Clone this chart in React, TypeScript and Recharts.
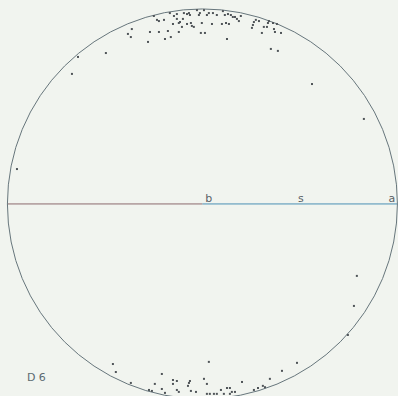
import React from 'react';
import { ScatterChart, Scatter, XAxis, YAxis, ReferenceLine } from 'recharts';

const W = 398;
const H = 396;
const X_DOMAIN: [number, number] = [-103.8, 100.3];
const Y_DOMAIN: [number, number] = [-98.5, 104.6];
const NET_RADIUS = 100;

// Poles in net coordinates (radius = 100), [east, north]
const northCluster: [number, number][] = [
  [-36.2, 89.7], [-36.7, 85.6], [-27.9, 83.1], [-26.9, 88.2], [-24.9, 96.4], [-23.3, 94.4],
  [-22.3, 93.8], [-22.3, 88.2], [-19.7, 94.4], [-19.2, 84.6], [-17.7, 88.7], [-16.7, 97.9],
  [-16.2, 85.6], [-15.1, 92.3], [-14.6, 96.4], [-13.1, 97.4], [-12.1, 88.2], [-13.1, 94.9],
  [-12.1, 92.8], [-11.5, 93.3], [-10.0, 94.9], [-9.5, 97.9], [-10.5, 90.8], [-7.9, 92.3],
  [-7.9, 97.4], [-6.9, 97.9], [-6.4, 96.9], [-5.9, 92.8], [-5.4, 91.3], [-4.4, 90.8],
  [-2.8, 99.4], [-1.8, 96.9], [-1.3, 97.9], [-0.8, 87.7], [-0.3, 92.8], [1.3, 87.7],
  [0.8, 99.4], [2.3, 96.9], [3.3, 97.9], [4.9, 92.3], [5.4, 97.9], [7.4, 96.9],
  [10.0, 92.3], [10.5, 98.9], [11.5, 96.9], [12.1, 92.8], [12.6, 84.6], [13.6, 92.3],
  [13.1, 97.4], [14.6, 96.9], [15.6, 95.9], [16.7, 95.9], [17.7, 94.9], [18.7, 93.8],
  [19.7, 96.4], [25.4, 90.3], [25.9, 91.8], [26.4, 93.3], [27.4, 94.4], [29.0, 93.8],
  [30.5, 87.7], [31.5, 90.8], [33.1, 90.8], [33.6, 92.8], [34.1, 93.8], [36.2, 92.8],
  [36.7, 89.7], [37.2, 88.2], [38.2, 92.3], [40.3, 87.7], [35.1, 79.5], [38.7, 78.5],
];

const southCluster: [number, number][] = [
  [-45.9, -82.1], [-44.4, -86.2], [-36.7, -91.8], [-27.4, -95.4], [-25.9, -95.9], [-24.4, -92.3],
  [-20.8, -87.2], [-20.8, -94.9], [-19.2, -96.9], [-15.1, -90.3], [-13.1, -90.8], [-15.1, -92.3],
  [-13.1, -95.4], [-12.1, -96.4], [-7.4, -93.3], [-6.4, -90.8], [-6.9, -91.8], [-5.9, -95.9],
  [-3.3, -96.4], [3.3, -81.0], [0.8, -89.7], [2.3, -92.3], [2.3, -97.4], [3.8, -97.4],
  [5.9, -97.4], [7.4, -97.4], [9.5, -95.4], [11.0, -97.4], [12.6, -94.4], [14.1, -94.4],
  [14.1, -97.4], [15.1, -96.4], [16.7, -96.4], [20.3, -91.3], [26.4, -95.4], [28.5, -94.4],
  [31.0, -93.3], [32.1, -94.0],
];

const scatteredPoles: [number, number][] = [
  [-95.1, 17.9], [-66.9, 66.7], [-63.8, 75.4], [-49.5, 77.4], [-38.2, 87.2],
  [56.2, 61.5], [82.8, 43.6], [79.2, -36.9], [77.7, -52.3], [74.6, -67.2],
  [48.5, -81.5], [40.8, -85.6], [34.6, -89.7],
];

const axisLabels = ['b', 's', 'a'];
const axisLabelX = [3.3, 50.5, 97.2];
const sampleLabel = 'D 6';

const toPoints = (arr: [number, number][]) => arr.map(([x, y]) => ({ x, y }));
const allPoles = [...toPoints(northCluster), ...toPoints(southCluster), ...toPoints(scatteredPoles)];
const labelData = axisLabels.map((t, i) => ({ x: axisLabelX[i], y: 1.0, t }));
const sampleData = [{ x: -90, y: -90.8, t: sampleLabel }];

const pxPerUnit = W / (X_DOMAIN[1] - X_DOMAIN[0]);

const PoleShape = (p: any) => (
  <rect x={p.cx - 1} y={p.cy - 1} width={2} height={2} fill="#4f5458" />
);

const CircleShape = (p: any) => (
  <circle cx={p.cx} cy={p.cy} r={NET_RADIUS * pxPerUnit} fill="none" stroke="#67767c" strokeWidth={1} />
);

const LabelShape = (p: any) => (
  <text x={p.cx} y={p.cy} textAnchor="middle" fontSize={11} fill="#5a6166" fontFamily="DejaVu Sans, sans-serif">
    {p.payload.t}
  </text>
);

const SampleShape = (p: any) => (
  <text x={p.cx} y={p.cy} textAnchor="start" fontSize={11} fill="#5b6a72" fontFamily="DejaVu Sans, sans-serif">
    {p.payload.t}
  </text>
);

export default function App() {
  return (
    <div style={{ position: 'absolute', left: 0, top: 0, width: W, height: H, background: '#f1f4ef' }}>
      <ScatterChart width={W} height={H} margin={{ top: 0, right: 0, bottom: 0, left: 0 }}>
        <XAxis type="number" dataKey="x" domain={X_DOMAIN} hide allowDataOverflow />
        <YAxis type="number" dataKey="y" domain={Y_DOMAIN} hide allowDataOverflow />
        <Scatter data={[{ x: 0, y: 0 }]} shape={CircleShape} isAnimationActive={false} />
        <ReferenceLine segment={[{ x: -NET_RADIUS, y: 0 }, { x: 0, y: 0 }]} stroke="#8c6a6e" strokeWidth={1} />
        <ReferenceLine segment={[{ x: 0, y: 0 }, { x: NET_RADIUS, y: 0 }]} stroke="#4a8fb5" strokeWidth={1} />
        <Scatter data={allPoles} shape={PoleShape} isAnimationActive={false} />
        <Scatter data={labelData} shape={LabelShape} isAnimationActive={false} />
        <Scatter data={sampleData} shape={SampleShape} isAnimationActive={false} />
      </ScatterChart>
    </div>
  );
}
